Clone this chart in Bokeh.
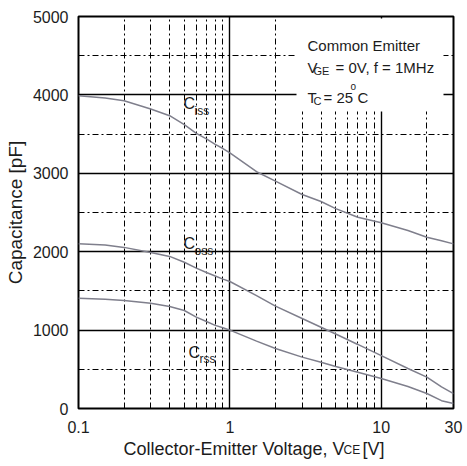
import math
from bokeh.plotting import figure
from bokeh.layouts import column
from bokeh.models import FixedTicker, NumeralTickFormatter, BasicTickFormatter, Label, BoxAnnotation, Range1d
from bokeh.embed import file_html
from bokeh.resources import INLINE

# ---- data ----
vce = [0.1, 0.15, 0.2, 0.3, 0.4, 0.5, 0.6, 0.7, 0.8, 0.9, 1.0, 1.5, 2, 3, 4, 5, 7, 10, 15, 20, 25, 30]
ciss = [3990, 3960, 3925, 3820, 3735, 3620, 3510, 3440, 3370, 3316, 3260, 3020, 2900, 2730, 2640, 2550, 2440, 2370, 2270, 2185, 2140, 2100]
coss = [2100, 2085, 2055, 1990, 1940, 1865, 1790, 1735, 1690, 1650, 1620, 1440, 1305, 1148, 1037, 950, 817, 675, 510, 400, 275, 190]
crss = [1405, 1395, 1378, 1343, 1300, 1250, 1165, 1110, 1060, 1030, 1000, 860, 765, 655, 590, 536, 463, 383, 281, 191, 100, 65]

x_ticks = [0.1, 1, 10, 30]
y_ticks = [0, 1000, 2000, 3000, 4000, 5000]
x_major_grid = [1, 10]
x_minor_grid = [0.2, 0.3, 0.4, 0.5, 0.6, 0.7, 0.8, 0.9, 2, 3, 4, 5, 6, 7, 8, 9, 20]
y_major_grid = [1000, 2000, 3000, 4000]
y_minor_grid = [500, 1500, 2500, 3500, 4500]

X0, X1 = 0.1, 30
Y0, Y1 = 0, 5000

W, H = 467, 466
H_MAIN = 440
FL, FR, FT, FB = 78, 453, 16, 408  # frame edges in pixels

FONT = "Liberation Sans"
TXT = "#1c1c1c"


def sx(px):
    lo, hi = math.log10(X0), math.log10(X1)
    return 10 ** (lo + (px - FL) / (FR - FL) * (hi - lo))


def sy(py):
    return Y0 + (FB - py) / (FB - FT) * (Y1 - Y0)


p = figure(width=W, height=H_MAIN, x_axis_type="log",
           x_range=Range1d(X0, X1), y_range=Range1d(Y0, Y1),
           min_border_left=FL, min_border_right=W - FR,
           min_border_top=FT, min_border_bottom=H_MAIN - FB,
           output_backend="svg", toolbar_location=None)

p.background_fill_color = "white"
p.border_fill_color = "white"
p.outline_line_color = "black"
p.outline_line_width = 2

# grids
p.xgrid.ticker = FixedTicker(ticks=x_major_grid, minor_ticks=x_minor_grid)
p.ygrid.ticker = FixedTicker(ticks=y_major_grid, minor_ticks=y_minor_grid)
for g in (p.xgrid, p.ygrid):
    g.grid_line_color = "black"
    g.grid_line_width = 1.4
    g.grid_line_alpha = 1
    g.minor_grid_line_color = "black"
    g.minor_grid_line_width = 1
    g.minor_grid_line_dash = "6 3 2 3"

# axes
p.xaxis.ticker = FixedTicker(ticks=x_ticks)
p.xaxis.formatter = NumeralTickFormatter(format="0.[0]")
p.yaxis.ticker = FixedTicker(ticks=y_ticks)
p.yaxis.formatter = BasicTickFormatter(use_scientific=False)
for ax in (p.xaxis[0], p.yaxis[0]):
    ax.axis_line_color = None
    ax.major_tick_line_color = None
    ax.minor_tick_line_color = None
    ax.major_label_text_font = FONT
    ax.major_label_text_font_size = "16px"
    ax.major_label_text_color = TXT
p.xaxis.major_label_standoff = 6
p.yaxis.major_label_standoff = 4

p.yaxis.axis_label = "Capacitance [pF]"
p.yaxis.axis_label_text_font = FONT
p.yaxis.axis_label_text_font_size = "19px"
p.yaxis.axis_label_text_font_style = "normal"
p.yaxis.axis_label_text_color = TXT
p.yaxis.axis_label_standoff = 4

# curves
CURVE = "#7f7f8c"
p.line(vce, ciss, line_color=CURVE, line_width=1.5)
p.line(vce, coss, line_color=CURVE, line_width=1.5)
p.line(vce, crss, line_color=CURVE, line_width=1.5)

# white background of the condition box
p.add_layout(BoxAnnotation(left=sx(296), right=sx(443), bottom=sy(111), top=sy(18),
                           fill_color="white", fill_alpha=1, line_color=None))


def lab(fig, x, y, text, size, **kw):
    fig.add_layout(Label(x=x, y=y, text=text, text_font=FONT,
                         text_font_size=size, text_color=TXT,
                         text_align=kw.pop("align", "left"),
                         text_baseline=kw.pop("baseline", "alphabetic"), **kw))


def plab(px, py, text, size):
    lab(p, sx(px), sy(py), text, size)


# condition text
plab(307, 45, "Common Emitter", "15px")
plab(307, 67, "V", "15px")
plab(313, 70, "GE", "11px")
plab(335, 67, "= 0V, f = 1MHz", "15px")
plab(307, 97, "T", "15px")
plab(313, 100, "C", "11px")
plab(323, 97, "= 25", "15px")
plab(350, 86, "o", "10px")
plab(357, 97, "C", "15px")

# curve labels
plab(183, 103, "C", "16px")
plab(194, 110, "iss", "12px")
plab(183, 243, "C", "16px")
plab(194, 250, "oss", "12px")
plab(188, 352, "C", "16px")
plab(199, 358, "rss", "12px")

# x axis title strip (text with subscript); its frame is aligned with the main
# frame horizontally, so x is given in page pixels via the range FL..FR
H_T = H - H_MAIN
t = figure(width=W, height=H_T, x_range=Range1d(FL, FR), y_range=Range1d(H_T, 0),
           min_border=0, min_border_left=0, min_border_right=0,
           min_border_top=0, min_border_bottom=0,
           x_axis_location=None, y_axis_location=None,
           output_backend="svg", toolbar_location=None)
t.grid.visible = False
t.outline_line_color = None
t.background_fill_color = "white"
t.border_fill_color = "white"
base = 456 - H_MAIN - 8
lab(t, 123, base, "Collector-Emitter Voltage, V", "18px")
lab(t, 343, base + 1, "CE", "12px")
lab(t, 362, base, "[V]", "18px")

layout = column(p, t, spacing=0)
open("out.html", "w").write(file_html(layout, INLINE))
